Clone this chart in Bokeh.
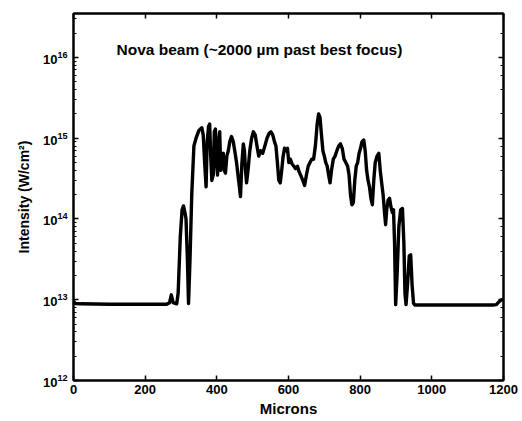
from bokeh.plotting import figure
from bokeh.models import LinearAxis, LogAxis, Label, ColumnDataSource
from bokeh.embed import file_html
from bokeh.resources import INLINE

# Data (x in microns, intensity in W/cm^2)
microns = [0, 5, 20, 100, 200, 260, 268, 273, 278, 288, 292, 298, 303, 307, 311, 314, 318, 321, 325, 330,
           336, 342, 350, 358, 362, 366, 370, 373, 377, 380, 383, 386, 390, 393, 396, 399, 402, 405, 408, 411,
           414, 418, 421, 424, 428, 432, 436, 441, 446, 450, 455, 459, 463, 466, 470, 474, 477, 480, 483, 487,
           492, 497, 502, 507, 512, 517, 522, 528, 534, 540, 546, 551, 556, 561, 565, 569, 573, 577, 581, 585,
           589, 593, 597, 601, 605, 610, 615, 620, 625, 630, 635, 640, 645, 650, 655, 660, 665, 670, 675, 680,
           684, 688, 692, 696, 700, 704, 708, 712, 716, 720, 725, 730, 735, 740, 745, 750, 755, 760, 765, 769,
           773, 777, 781, 785, 789, 793, 797, 801, 805, 810, 814, 818, 822, 826, 830, 834, 838, 842, 847, 852,
           856, 860, 864, 868, 871, 874, 878, 882, 886, 890, 893, 896, 899, 903, 908, 913, 918, 922, 925, 928,
           932, 937, 941, 945, 949, 953, 970, 1100, 1170, 1180, 1188, 1195, 1200]
intensity = [9.6e12, 9.0e12, 8.9e12, 8.8e12, 8.8e12, 8.8e12, 9.2e12, 1.15e13, 9.2e12, 8.9e12, 1.2e13, 6e13, 1.3e14, 1.45e14, 1.2e14, 1.0e14, 3e13, 9.0e12, 3e13, 2e14,
             8e14, 1.0e15, 1.25e15, 1.35e15, 1.1e15, 5e14, 2.5e14, 9e14, 1.4e15, 1.5e15, 6e14, 3e14, 3.5e14, 1.2e15, 1.3e15, 5e14, 3.5e14, 9e14, 1.2e15, 4e14,
             6e14, 6.5e14, 4e14, 3.7e14, 6e14, 7e14, 9e14, 1.05e15, 9e14, 7e14, 5e14, 3.5e14, 2.5e14, 1.9e14, 5e14, 8.5e14, 7e14, 4e14, 2.8e14, 4e14,
             7e14, 1.0e15, 1.2e15, 1.1e15, 8e14, 6e14, 7e14, 6.5e14, 8e14, 1.0e15, 1.15e15, 1.2e15, 1.1e15, 9e14, 8e14, 5e14, 3e14, 2.8e14, 4e14, 6e14,
             7.5e14, 7e14, 7.5e14, 5e14, 5.5e14, 4.8e14, 4.5e14, 4.2e14, 4.5e14, 3.8e14, 3.4e14, 3.0e14, 2.6e14, 3.5e14, 4.5e14, 5e14, 5.5e14, 5.5e14, 8e14, 1.5e15,
             2.0e15, 1.8e15, 1.1e15, 7e14, 6e14, 5e14, 4.5e14, 3.5e14, 2.8e14, 4e14, 5.5e14, 6e14, 7e14, 8e14, 8.5e14, 7.5e14, 5.5e14, 5e14, 4.5e14, 3.5e14,
             2e14, 1.5e14, 1.6e14, 3e14, 4.5e14, 5e14, 6.5e14, 7.5e14, 9e14, 9.5e14, 7e14, 4e14, 3e14, 2.5e14, 1.8e14, 1.5e14, 3e14, 5e14, 6e14, 6.5e14,
             4e14, 2.8e14, 2e14, 1.2e14, 8.5e13, 1.3e14, 1.7e14, 1.8e14, 1.4e14, 1.2e14, 1.3e14, 5e13, 8.7e12, 2e13, 8e13, 1.3e14, 1.35e14, 5e13, 1.2e13, 8.7e12,
             1.5e13, 3.5e13, 3.6e13, 1.5e13, 9e12, 8.6e12, 8.6e12, 8.6e12, 8.6e12, 8.7e12, 9.5e12, 1.0e13, 1.0e13]

x_ticks = [0, 200, 400, 600, 800, 1000, 1200]
title_text = "Nova beam (~2000 \u00b5m past best focus)"
x_label = "Microns"
y_label = "Intensity (W/cm\u00b2)"

FONT = "Liberation Sans"

p = figure(width=522, height=421, x_range=(0, 1200), y_range=(1e12, 3.5e16),
           y_axis_type="log", output_backend="svg", toolbar_location=None,
           min_border_left=73, min_border_right=19, min_border_top=13, min_border_bottom=41)
p.xgrid.visible = False
p.ygrid.visible = False
p.outline_line_color = "black"
p.outline_line_width = 2
p.background_fill_color = "white"
p.border_fill_color = "white"

src = ColumnDataSource(dict(x=microns, y=intensity))
p.line("x", "y", source=src, line_color="black", line_width=3.4, line_join="round")

def style_axis(ax, show_labels):
    ax.axis_line_color = "black"
    ax.axis_line_width = 2
    ax.major_tick_in = 5
    ax.major_tick_out = 0
    ax.major_tick_line_width = 1.5
    ax.minor_tick_in = 3
    ax.minor_tick_out = 0
    ax.minor_tick_line_width = 1.2
    ax.major_label_text_font = FONT
    ax.major_label_text_font_style = "bold"
    if show_labels:
        ax.major_label_text_color = "black"
        ax.major_label_text_font_size = "13px"
    else:
        ax.major_label_text_color = None
        ax.major_label_text_font_size = "1px"
        ax.major_label_standoff = 0

xa = p.xaxis[0]
style_axis(xa, True)
xa.ticker = x_ticks
xa.minor_tick_line_color = None
xa.major_label_standoff = 4
xa.axis_label = x_label
xa.axis_label_text_font = FONT
xa.axis_label_text_font_style = "bold"
xa.axis_label_text_font_size = "15px"
xa.axis_label_text_color = "black"
xa.axis_label_standoff = 3

ya = p.yaxis[0]
style_axis(ya, True)
ya.major_label_standoff = 6
ya.axis_label = y_label
ya.axis_label_text_font = FONT
ya.axis_label_text_font_style = "bold"
ya.axis_label_text_font_size = "14px"
ya.axis_label_text_color = "black"
ya.axis_label_standoff = 8

top = LinearAxis()
style_axis(top, False)
top.ticker = x_ticks
top.minor_tick_line_color = None
p.add_layout(top, "above")

right = LogAxis()
style_axis(right, False)
p.add_layout(right, "right")

p.add_layout(Label(x=120, y=10 ** 16.1, text=title_text, text_font=FONT, text_font_style="bold",
                   text_font_size="15.5px", text_baseline="middle", text_color="black"))

open("out.html", "w").write(file_html(p, INLINE))
